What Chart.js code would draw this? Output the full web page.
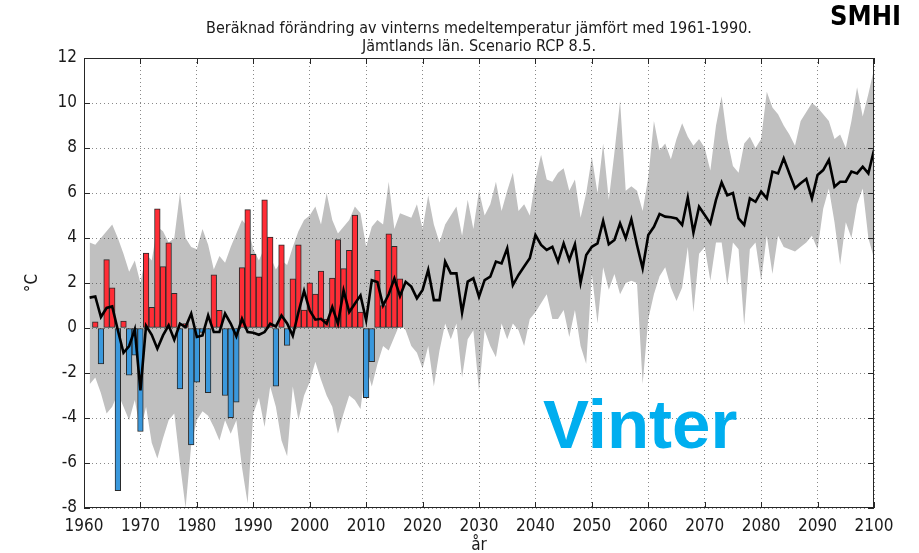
<!DOCTYPE html>
<html>
<head>
<meta charset="utf-8">
<script src="https://cdn.jsdelivr.net/npm/chart.js@4.4.0/dist/chart.umd.min.js"></script>
<style>
html, body { margin: 0; padding: 0; background: #fff; }
canvas { background: #fff; }
</style>
</head>
<body>
<canvas id="c" width="919" height="553"></canvas>
<script>
// modellår 1961-2100, observationer 1962-2016
var modelStart = 1961;
var obsStart = 1962;

// median av modellerna
var median = [
  1.35, 1.4, 0.49, 0.89, 0.96, -0.1, -1.1, -0.8, -0.06, -2.77,
  0.1, -0.3, -0.92, -0.33, 0.12, -0.52, 0.19, 0.04, 0.64, -0.4,
  -0.33, 0.56, -0.18, -0.18, 0.64, 0.2, -0.37, 0.41, -0.18, -0.21,
  -0.3, -0.18, 0.19, 0.07, 0.56, 0.2, -0.35, 0.7, 1.65, 0.78,
  0.37, 0.41, 0.19, 0.93, 0.19, 1.67, 0.71, 1.08, 1.45, 0.34,
  2.12, 2.04, 1.0, 1.5, 2.2, 1.42, 2.05, 1.84, 1.32, 1.69,
  2.58, 1.24, 1.24, 2.95, 2.43, 2.43, 0.68, 2.06, 2.21, 1.39,
  2.13, 2.28, 2.95, 2.87, 3.54, 1.91, 2.36, 2.73, 3.10, 4.13,
  3.69, 3.47, 3.61, 2.95, 3.76, 3.02, 3.72, 2.01, 3.24, 3.61,
  3.76, 4.76, 3.72, 3.91, 4.65, 3.99, 4.83, 3.69, 2.65, 4.13,
  4.50, 5.07, 4.95, 4.92, 4.87, 4.58, 5.79, 4.24, 5.39, 5.02,
  4.65, 5.69, 6.47, 5.9, 6.0, 4.87, 4.58, 5.76, 5.61, 6.06,
  5.76, 6.95, 6.87, 7.54, 6.87, 6.21, 6.43, 6.62, 5.76, 6.8,
  7.02, 7.47, 6.28, 6.5, 6.5, 6.95, 6.87, 7.17, 6.87, 7.91
];

// max och min av modellerna (grått fält)
var upper = [
  3.8, 3.7, 4.0, 4.3, 4.6, 4.0, 3.3, 2.5, 3.0, 2.0,
  3.3, 3.0, 4.5, 4.3, 3.8, 4.0, 6.0, 4.0, 3.6, 3.5,
  4.4, 3.7, 2.6, 3.2, 2.9, 3.6, 4.2, 4.8, 4.5, 3.5,
  3.0, 3.6, 3.2, 2.6, 3.0, 2.8, 3.6, 4.3, 4.8, 5.0,
  5.4, 4.6, 6.0, 4.8, 4.2, 4.5, 4.8, 5.4, 5.1, 3.6,
  4.5, 4.8, 4.6, 6.5, 4.4, 5.1, 5.0, 4.9, 5.5, 4.4,
  5.9, 4.6, 3.8, 4.6, 5.0, 5.4, 4.1, 5.7, 4.4, 6.1,
  5.0, 5.5, 6.5, 5.2, 6.1, 6.9, 5.2, 5.5, 5.0, 6.6,
  7.7, 6.6, 6.5, 6.9, 7.1, 6.1, 6.6, 4.9, 6.0, 7.6,
  6.0, 8.2, 5.7, 7.8, 10.1, 6.1, 6.3, 6.1, 5.2, 6.7,
  9.2, 7.9, 8.2, 7.5, 8.4, 9.1, 8.5, 8.1, 8.4, 8.0,
  7.0, 9.0, 10.3, 8.4, 7.2, 6.9, 8.2, 8.5, 8.0, 8.4,
  10.5, 9.8, 9.5, 9.0, 8.6, 8.1, 9.2, 9.6, 10.0, 9.8,
  9.5, 9.2, 8.4, 8.6, 8.0, 9.2, 10.7, 9.4, 10.4, 11.5
];

var lower = [
  -2.5, -2.2, -2.9, -3.8, -3.5, -2.9, -3.5, -4.1, -3.2, -4.6,
  -3.5, -5.1, -5.8, -4.9, -4.1, -3.8, -6.0, -8.0, -5.2, -4.1,
  -3.7, -3.9, -4.4, -5.0, -4.1, -4.7, -4.1, -6.2, -7.8, -3.8,
  -3.1, -4.4, -2.6, -3.5, -5.0, -5.7, -2.6, -4.1, -3.0, -2.4,
  -1.5, -2.3, -3.0, -3.5, -4.7, -3.8, -3.0, -3.2, -3.6, -1.7,
  -2.6, -1.6, -0.8, -1.0, -0.4, 0.2, -0.1, -0.8, -1.1, -1.8,
  -0.8, -2.6, -1.0, 0.2, -0.5, 0.2, -2.2, -0.5, -0.1, -2.8,
  -0.1, -0.8, -1.3, 0.2, -0.5, 0.2, -0.1, -0.8, 0.4, 0.7,
  1.1, 1.5, 0.4, 0.4, 0.8, -0.4, 0.8, -0.8, -1.6, 2.4,
  0.2, 2.7, 1.7, 2.4, 1.5, 2.0, 2.1, 2.0, -2.5, 0.4,
  1.5, 2.3, 2.7, 1.8, 1.2, 1.8, 3.6, 0.7, 3.3, 3.6,
  2.1, 3.8, 3.8, 1.9, 3.8, 3.5, 0.1, 3.5, 3.8, 2.1,
  4.1, 2.4, 4.1, 3.6, 3.5, 3.4, 3.6, 3.8, 4.1, 3.5,
  5.3, 6.2, 4.7, 2.8, 4.7, 4.0, 5.5, 6.2, 4.0, 3.1
];

// observerad avvikelse (staplar)
var obs = [
  0.27, -1.6, 3.04, 1.79, -7.23, 0.31, -2.1, -1.21, -4.6, 3.33,
  0.92, 5.3, 2.73, 3.79, 1.54, -2.71, 0.2, -5.2, -2.41, -0.2,
  -2.87, 2.36, 0.79, -3.0, -3.99, -3.3, 2.68, 5.26, 3.27, 2.27,
  5.7, 4.04, -2.59, 3.70, -0.77, 2.19, 3.70, 0.8, 2.01, 1.51,
  2.53, 0.4, 2.22, 3.93, 2.64, 3.45, 5.02, 0.71, -3.1, -1.5,
  2.56, 1.0, 4.19, 3.63, 2.19
];

var xTicks = [1960, 1970, 1980, 1990, 2000, 2010, 2020, 2030, 2040, 2050, 2060, 2070, 2080, 2090, 2100];
var yTicks = [-8, -6, -4, -2, 0, 2, 4, 6, 8, 10, 12];

var titel1 = 'Beräknad förändring av vinterns medeltemperatur jämfört med 1961-1990.';
var titel2 = 'Jämtlands län. Scenario RCP 8.5.';

var red = '#ff2d36';
var blue = '#3a98dc';
var textFont = '"Liberation Sans Narrow", "DejaVu Sans Condensed", "Liberation Sans", sans-serif';

function pts(arr, start) {
  return arr.map(function(v, i) { return {x: start + i, y: v}; });
}

// ram, inåtriktade tickmarks, titel, logga
var extras = {
  id: 'extras',
  afterDraw: function(chart) {
    var ctx = chart.ctx, a = chart.chartArea;
    var sx = chart.scales.x, sy = chart.scales.y;
    ctx.save();
    ctx.strokeStyle = '#262626';
    ctx.lineWidth = 1;
    ctx.strokeRect(Math.round(a.left) + 0.5, Math.round(a.top) + 0.5,
      Math.round(a.right - a.left) - 1, Math.round(a.bottom - a.top) - 1);
    ctx.beginPath();
    xTicks.forEach(function(t) {
      var px = Math.round(sx.getPixelForValue(t)) + 0.5;
      ctx.moveTo(px, a.bottom); ctx.lineTo(px, a.bottom - 6);
      ctx.moveTo(px, a.top); ctx.lineTo(px, a.top + 6);
    });
    yTicks.forEach(function(t) {
      var py = Math.round(sy.getPixelForValue(t)) + 0.5;
      ctx.moveTo(a.left, py); ctx.lineTo(a.left + 6, py);
      ctx.moveTo(a.right, py); ctx.lineTo(a.right - 6, py);
    });
    ctx.stroke();

    ctx.fillStyle = '#1a1a1a';
    ctx.textAlign = 'center';
    ctx.textBaseline = 'middle';
    ctx.font = '16px ' + textFont;
    var cx = (a.left + a.right) / 2;
    ctx.fillText(titel1, cx, 29);
    ctx.fillText(titel2, cx, 47);

    ctx.fillStyle = '#000';
    ctx.textAlign = 'right';
    ctx.font = 'bold 27px ' + textFont;
    ctx.fillText('SMHI', 901, 18);

    ctx.fillStyle = '#00aeef';
    ctx.textAlign = 'left';
    ctx.textBaseline = 'alphabetic';
    ctx.font = 'bold 69px "Liberation Sans", Arial, sans-serif';
    ctx.fillText('Vinter', 543, 448);
    ctx.restore();
  }
};

var tickFont = {family: textFont, size: 17};

new Chart(document.getElementById('c'), {
  type: 'bar',
  data: {
    datasets: [{
      type: 'line',
      label: 'max',
      data: pts(upper, modelStart),
      fill: '+1',
      backgroundColor: '#c0c0c0',
      borderWidth: 0,
      pointRadius: 0,
      order: 3
    }, {
      type: 'line',
      label: 'min',
      data: pts(lower, modelStart),
      fill: false,
      borderWidth: 0,
      pointRadius: 0,
      order: 3
    }, {
      label: 'observerat',
      data: pts(obs, obsStart),
      backgroundColor: obs.map(function(v) { return v >= 0 ? red : blue; }),
      borderColor: '#2a2a2a',
      borderWidth: 1,
      borderSkipped: false,
      barPercentage: 1,
      categoryPercentage: 1,
      order: 2
    }, {
      type: 'line',
      label: 'median',
      data: pts(median, modelStart),
      borderColor: '#000',
      borderWidth: 2.6,
      pointRadius: 0,
      fill: false,
      order: 1
    }]
  },
  options: {
    responsive: false,
    animation: false,
    layout: {padding: {left: 18, right: 45, top: 58, bottom: 0}},
    plugins: {
      legend: {display: false},
      tooltip: {enabled: false},
      filler: {drawTime: 'beforeDraw'}
    },
    scales: {
      x: {
        type: 'linear',
        min: 1960,
        max: 2100,
        offset: false,
        afterBuildTicks: function(s) { s.ticks = xTicks.map(function(v) { return {value: v}; }); },
        afterFit: function(s) { s.height = 45; },
        grid: {offset: false, color: 'rgba(40,40,40,0.55)', drawTicks: false},
        border: {display: false, dash: [1, 3]},
        ticks: {padding: 8, font: tickFont, color: '#1a1a1a', maxRotation: 0,
          callback: function(v) { return String(v); }},
        title: {display: true, text: 'år', font: tickFont, color: '#1a1a1a', padding: {top: 0, bottom: -3}}
      },
      y: {
        min: -8,
        max: 12,
        afterBuildTicks: function(s) { s.ticks = yTicks.map(function(v) { return {value: v}; }); },
        afterFit: function(s) { s.width = 66; },
        grid: {color: 'rgba(40,40,40,0.55)', drawTicks: false},
        border: {display: false, dash: [1, 3]},
        ticks: {padding: 7, font: tickFont, color: '#1a1a1a',
          callback: function(v) { return String(v); }},
        title: {display: true, text: '°C', font: tickFont, color: '#1a1a1a'}
      }
    }
  },
  plugins: [extras]
});
</script>
</body>
</html>
